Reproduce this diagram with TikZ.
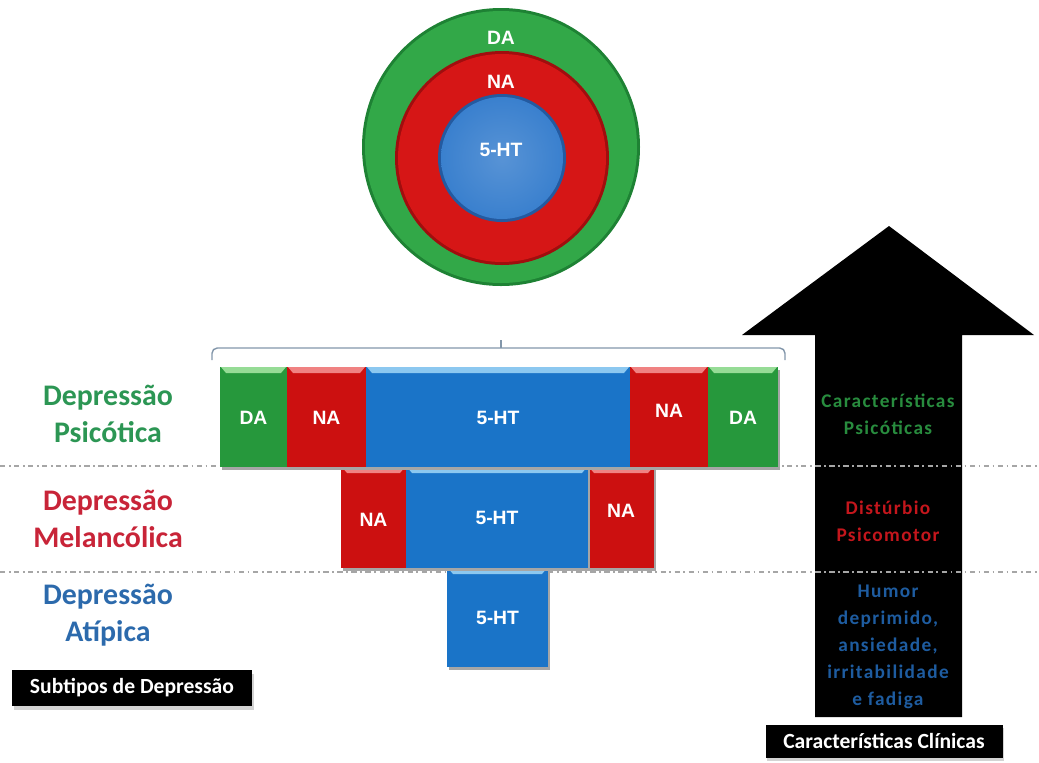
\documentclass[tikz,border=0pt]{standalone}
\usepackage{fontspec}
\usetikzlibrary{shadows}
\setmainfont{Carlito}
\newfontfamily\boxfont{Liberation Sans}
\newfontfamily\arrowfont[LetterSpace=7]{Carlito}
\definecolor{gC}{RGB}{50,168,72}
\definecolor{gCd}{RGB}{30,130,52}
\definecolor{rC}{RGB}{214,22,22}
\definecolor{rCd}{RGB}{160,14,14}
\definecolor{bC}{RGB}{58,128,206}
\definecolor{bCd}{RGB}{36,90,160}
\definecolor{gB}{RGB}{38,152,60}
\definecolor{gBl}{RGB}{150,220,150}
\definecolor{rB}{RGB}{204,16,16}
\definecolor{rBl}{RGB}{240,130,130}
\definecolor{bB}{RGB}{26,116,200}
\definecolor{bBl}{RGB}{140,200,240}
\definecolor{gT}{RGB}{44,150,84}
\definecolor{rT}{RGB}{200,36,56}
\definecolor{bT}{RGB}{44,106,172}
\definecolor{gA}{RGB}{40,140,62}
\definecolor{rA}{RGB}{196,22,28}
\definecolor{bA}{RGB}{30,92,160}
\definecolor{brk}{RGB}{130,150,170}
% name, x1, y1, x2, y2, fill, light, label, label y-offset
\newcommand{\cellbox}[9]{%
  \fill[black!35] (#2+2,#3+3) rectangle (#4+2,#5+3);
  \fill[#6] (#2,#3) rectangle (#4,#5);
  \fill[#7] (#2+1,#3) -- (#4-1,#3) -- (#4-6,#3+6) -- (#2+6,#3+6) -- cycle;
  \node[lbl] (#1) at ({(#2+#4)/2},{(#3+#5)/2+#9}) {#8};}
\begin{document}
\begin{tikzpicture}[x=0.02cm,y=-0.02cm,
  lbl/.style={text=white,font=\boxfont\bfseries\fontsize{11}{13}\selectfont,inner sep=1pt},
  sublbl/.style={font=\bfseries\fontsize{17}{21}\selectfont,align=center,inner sep=0pt},
  armlbl/.style={font=\arrowfont\bfseries\fontsize{11}{15.3}\selectfont,align=center,inner sep=0pt},
  blackbox/.style={fill=black,text=white,font=\bfseries\fontsize{12.3}{14}\selectfont,inner sep=0pt,drop shadow={shadow xshift=1pt,shadow yshift=-2pt,opacity=0.35}},
  sep/.style={gray!70,line width=0.6pt,dash pattern=on 3pt off 2pt on 1pt off 2pt}]
\useasboundingbox (0,0) rectangle (1039,762);
% circles
\fill[gCd] (501,147) circle[radius=139];
\fill[gC] (501,147) circle[radius=136];
\fill[rCd] (502,158) circle[radius=107];
\fill[rC] (502,158) circle[radius=104];
\fill[bCd] (502,158) circle[radius=64];
\shade[inner color=bC!85!white,outer color=bC] (502,158) circle[radius=61];
\node[lbl] (cDA) at (501,38) {DA};
\node[lbl] (cNA) at (501,82) {NA};
\node[lbl] (cHT) at (501,150) {5-HT};
% bracket
\draw[brk,line width=0.8pt,rounded corners=3pt] (212,360) |- (501,348) -| (785,360);
\coordinate (bt) at (501,340);
\draw[brk,line width=0.8pt] (501,348) -- (bt);
% arrow
\fill[black] (815,717) -- (815,335) -- (742,335) -- (889,226) -- (1034,335) -- (962,335) -- (962,717) -- cycle;
% separators
\coordinate (s1a) at (0,466); \coordinate (s1b) at (1039,466);
\coordinate (s2a) at (0,572); \coordinate (s2b) at (1039,572);
\draw[sep] (s1a) -- (s1b);
\draw[sep] (s2a) -- (s2b);
% row 3
\cellbox{h3}{447}{568}{548}{667}{bB}{bBl}{5-HT}{0}
% row 2
\cellbox{n2a}{341}{467}{406}{568}{rB}{rBl}{NA}{2}
\cellbox{n2b}{588}{467}{654}{568}{rB}{rBl}{NA}{-7}
\cellbox{h2}{406}{467}{588}{568}{bB}{bBl}{5-HT}{0}
% row 1
\cellbox{d1a}{220}{367}{287}{467}{gB}{gBl}{DA}{1}
\cellbox{n1a}{287}{367}{366}{467}{rB}{rBl}{NA}{1}
\cellbox{h1}{366}{367}{630}{467}{bB}{bBl}{5-HT}{1}
\cellbox{n1b}{630}{367}{708}{467}{rB}{rBl}{NA}{-6}
\cellbox{d1b}{708}{367}{778}{467}{gB}{gBl}{DA}{1}
% left labels
\node[sublbl,text=gT] (psi) at (108,414) {Depressão\\Psicótica};
\node[sublbl,text=rT] (mel) at (108,519) {Depressão\\Melancólica};
\node[sublbl,text=bT] (ati) at (108,615) {Depressão\\Atípica};
% arrow labels
\node[armlbl,text=gA] (cp) at (888,414) {Características\\Psicóticas};
\node[armlbl,text=rA] (dp) at (888,521) {Distúrbio\\Psicomotor};
\node[armlbl,text=bA] (hd) at (888,647) {Humor\\deprimido,\\ansiedade,\\irritabilidade\\e fadiga};
% black boxes
\node[blackbox,minimum width=240*0.02cm,minimum height=36*0.02cm] (sub) at (132,688) {Subtipos de Depressão};
\node[blackbox,minimum width=237*0.02cm,minimum height=33*0.02cm] (cli) at (884,741) {Características Clínicas};
\end{tikzpicture}
\end{document}
